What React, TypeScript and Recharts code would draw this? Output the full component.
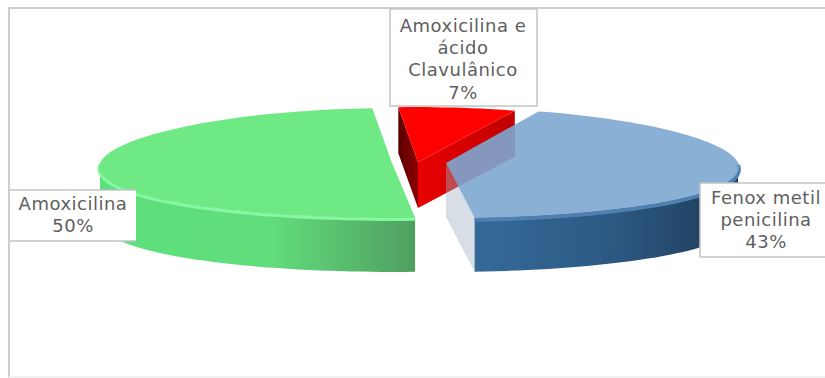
import {Pie, PieChart} from 'recharts';

// Drawn back to front: the blue slice is translucent and lies over the red one.
const categories = ['Amoxicilina e ácido Clavulânico', 'Fenox metil penicilina', 'Amoxicilina'];
const shares = [7, 43, 50];
const labelLines = [
  ['Amoxicilina e', 'ácido', 'Clavulânico'],
  ['Fenox metil', 'penicilina'],
  ['Amoxicilina'],
];

const data = categories.map((name, i) => ({name, value: shares[i], lines: labelLines[i]}));

const WIDTH = 825;
const HEIGHT = 378;
const TILT = 0.188; // vertical squash of the pie disc
const NARROW = 0.08; // far side of the disc is drawn a bit narrower

// Where each exploded slice sits relative to the pie centre, and how thick it is
const sliceStyle: Record<string, {dx: number; dy: number; depth: number; turn: number}> = {
  'Amoxicilina e ácido Clavulânico': {dx: -2, dy: 2, depth: 46, turn: 0},
  'Fenox metil penicilina': {dx: 26, dy: 3, depth: 54, turn: 1},
  Amoxicilina: {dx: -28, dy: 3, depth: 54, turn: 0},
};

const labelBoxes: Record<string, {x: number; y: number; w: number; h: number; cx: number; first: number; open?: boolean}> = {
  'Amoxicilina e ácido Clavulânico': {x: 390, y: 9, w: 147, h: 97, cx: 463, first: 32},
  'Fenox metil penicilina': {x: 700, y: 183, w: 130, h: 74, cx: 766, first: 204},
  Amoxicilina: {x: 10, y: 190, w: 126, h: 51, cx: 73, first: 210, open: true},
};

const LINE_HEIGHT = 22.2;

const rad = (deg: number) => (deg * Math.PI) / 180;

const arcPoints = (cx: number, cy: number, r: number, from: number, to: number) => {
  const steps = Math.max(2, Math.ceil(Math.abs(to - from) / 2));
  const pts: [number, number][] = [];
  for (let i = 0; i <= steps; i++) {
    const a = rad(from + ((to - from) * i) / steps);
    pts.push([cx + r * Math.cos(a) * (1 - NARROW * Math.sin(a)), cy - r * TILT * Math.sin(a)]);
  }
  return pts;
};

const toPath = (pts: [number, number][], close = true) =>
  pts.map((p, i) => `${i ? 'L' : 'M'}${p[0].toFixed(1)},${p[1].toFixed(1)}`).join(' ') + (close ? ' Z' : '');

const shifted = (pts: [number, number][], dy: number) => pts.map(p => [p[0], p[1] + dy] as [number, number]);

const Slice3D = (props: any) => {
  const {cx, cy, outerRadius, name, payload} = props;
  const sliceName = name ?? payload?.name;
  const {dx, dy, depth, turn} = sliceStyle[sliceName];
  const startAngle = props.startAngle + turn;
  const endAngle = props.endAngle + turn;
  const x0 = cx + dx;
  const y0 = cy + dy;
  const arc = arcPoints(x0, y0, outerRadius, startAngle, endAngle);
  const centre: [number, number] = [x0, y0];
  const top = toPath([centre, ...arc]);

  if (sliceName === categories[0]) {
    const first = arc[0];
    const last = arc[arc.length - 1];
    return (
      <g>
        <path d={toPath([first, centre, ...shifted([centre, first], depth)])} fill="url(#redLeftWall)"/>
        <path d={toPath([centre, last, ...shifted([last, centre], depth)])} fill="url(#redRightWall)"/>
        <path d={top} fill="#ff0000"/>
      </g>
    );
  }

  // only the part of the rim facing the viewer gets a side wall
  const front = arcPoints(x0, y0, outerRadius, Math.max(Math.min(startAngle, 0), endAngle), Math.max(endAngle, -180));

  if (sliceName === categories[1]) {
    const last = arc[arc.length - 1];
    return (
      <g>
        <path d={toPath([centre, last, ...shifted([last, centre], depth)])} fill="#9fb0c2" fillOpacity={0.42}/>
        <path d={toPath([...front, ...shifted(front, depth).reverse()])} fill="url(#blueWall)"/>
        <path d={toPath(shifted(front, 2), false)} fill="none" stroke="#4f80af" strokeWidth={4}/>
        <path d={top} fill="#7da7d1" fillOpacity={0.9}/>
      </g>
    );
  }

  return (
    <g>
      <path d={toPath([...front, ...shifted(front, depth).reverse()])} fill="url(#greenWall)"/>
      <path d={toPath(shifted(front, 1.5), false)} fill="none" stroke="#86f7a2" strokeWidth={3}/>
      <path d={top} fill="#6fe983"/>
    </g>
  );
};

const SliceLabel = (props: any) => {
  const {payload, name, value} = props;
  const sliceName = name ?? payload?.name;
  const box = labelBoxes[sliceName];
  const rows = [...(payload?.lines ?? []), `${value}%`];
  const edge = {stroke: '#c4c4c4', strokeWidth: 1.5};
  return (
    <g>
      {box.open ? (
        <>
          <rect x={box.x} y={box.y} width={box.w} height={box.h} fill="#ffffff"/>
          <line x1={box.x} x2={box.x + box.w} y1={box.y} y2={box.y} {...edge}/>
          <line x1={box.x} x2={box.x + box.w} y1={box.y + box.h} y2={box.y + box.h} {...edge}/>
        </>
      ) : (
        <rect x={box.x} y={box.y} width={box.w} height={box.h} fill="#ffffff" {...edge}/>
      )}
      <text textAnchor="middle" fontFamily="'DejaVu Sans', sans-serif" fontSize={18} letterSpacing={0.5} fill="#606060">
        {rows.map((row, i) => (
          <tspan key={row} x={box.cx} y={box.first + i * LINE_HEIGHT}>
            {row}
          </tspan>
        ))}
      </text>
    </g>
  );
};

export default function App() {
  return (
    <div style={{position: 'absolute', left: 0, top: 0, width: WIDTH, height: HEIGHT, overflow: 'hidden', background: '#fff'}}>
      <div
        style={{
          position: 'absolute',
          left: 8,
          top: 7,
          width: 840,
          height: 367,
          border: '2px solid #cfcfcf',
          borderBottomColor: '#f1f1f1',
        }}
      />
      <div style={{position: 'absolute', left: 0, top: 0}}>
        <PieChart width={WIDTH} height={HEIGHT} margin={{top: 0, right: 0, bottom: 0, left: 0}}>
          <defs>
            <linearGradient id="greenWall" x1="0" y1="0" x2="1" y2="0">
              <stop offset="0" stopColor="#5ce07c"/>
              <stop offset="0.55" stopColor="#62dc7c"/>
              <stop offset="1" stopColor="#4f9f60"/>
            </linearGradient>
            <linearGradient id="blueWall" x1="0" y1="0" x2="1" y2="0">
              <stop offset="0" stopColor="#356a98"/>
              <stop offset="0.5" stopColor="#2d5a85"/>
              <stop offset="1" stopColor="#1e3a56"/>
            </linearGradient>
            <linearGradient id="redLeftWall" x1="0" y1="0" x2="1" y2="0">
              <stop offset="0" stopColor="#5a0000"/>
              <stop offset="1" stopColor="#8f0000"/>
            </linearGradient>
            <linearGradient id="redRightWall" x1="0" y1="0" x2="1" y2="0">
              <stop offset="0" stopColor="#e80000"/>
              <stop offset="1" stopColor="#c00000"/>
            </linearGradient>
          </defs>
          <Pie
            data={data}
            dataKey="value"
            nameKey="name"
            cx={420}
            cy={160}
            outerRadius={292}
            startAngle={94.2}
            endAngle={-265.8}
            stroke="none"
            shape={Slice3D}
            activeShape={Slice3D}
            inactiveShape={Slice3D}
            label={SliceLabel}
            labelLine={false}
            isAnimationActive={false}
          />
        </PieChart>
      </div>
    </div>
  );
}
